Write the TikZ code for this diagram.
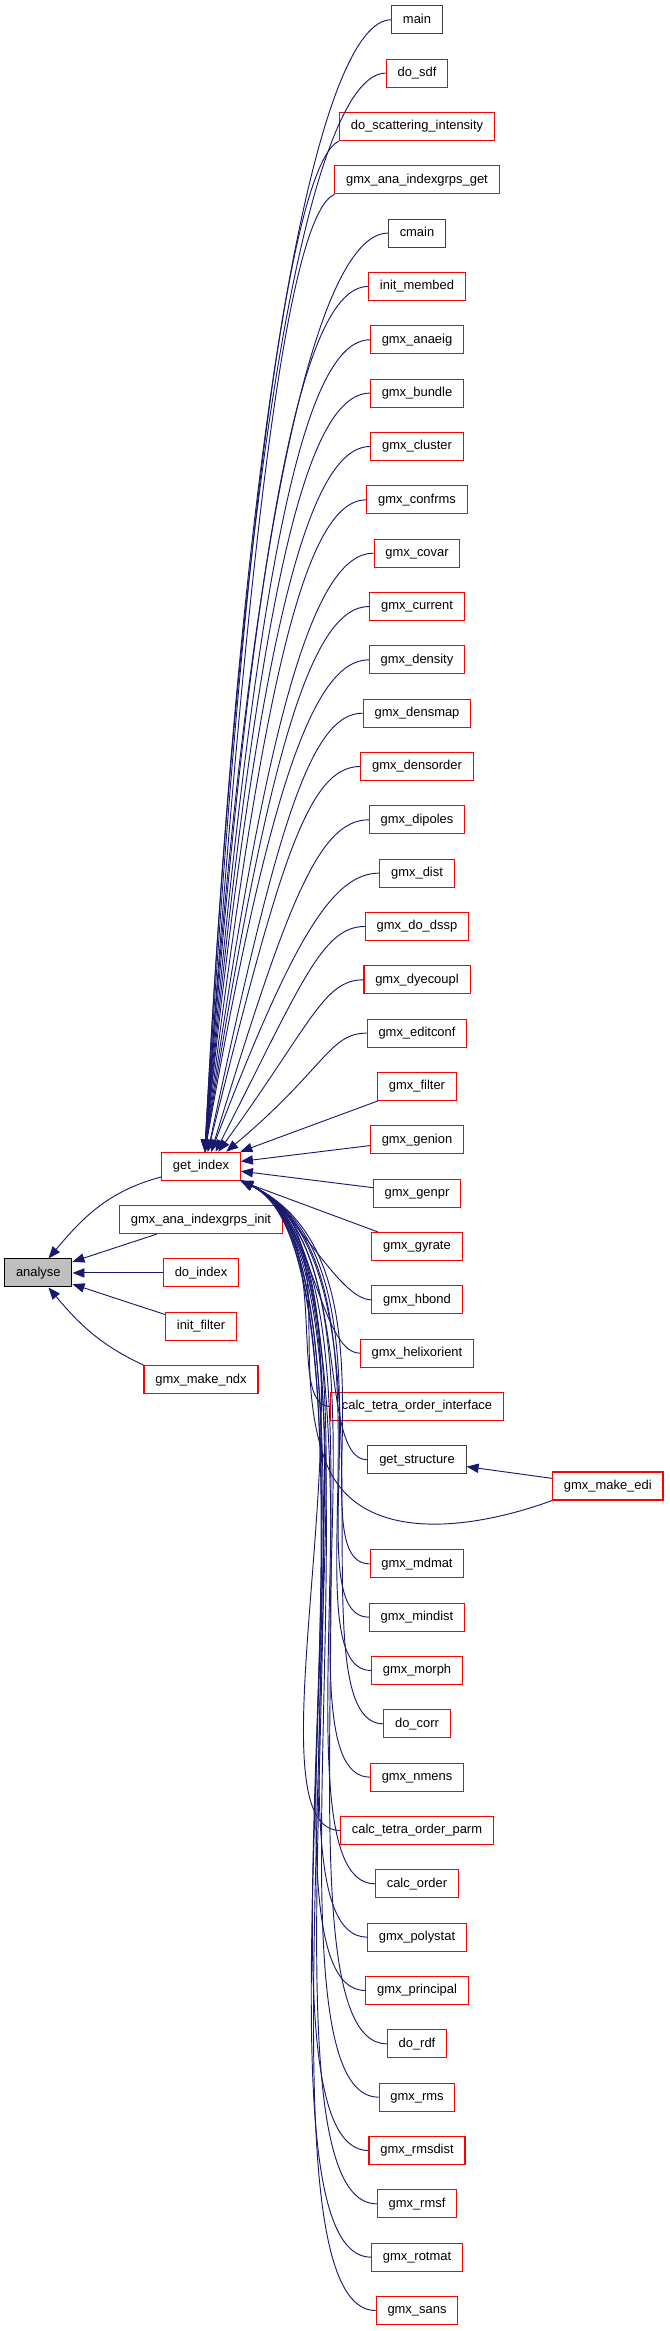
\documentclass[tikz,border=0pt]{standalone}
\usepackage{fontspec}
\setmainfont{Liberation Sans}
\usetikzlibrary{positioning,arrows.meta}
\definecolor{callblue}{HTML}{191970}
\definecolor{boxred}{HTML}{FF0000}
\definecolor{boxgray}{HTML}{404040}
\definecolor{rootgray}{HTML}{BFBFBF}
\begin{document}
\begin{tikzpicture}[
  node distance=40pt,
  box/.style={draw=boxred, line width=0.8pt, minimum height=21pt, inner xsep=8.5pt, text height=7.2pt, text depth=2pt, font=\fontsize{9.7}{11}\selectfont},
  docbox/.style={box, draw=boxgray},
  rootbox/.style={box, draw=black, fill=rootgray},
  call/.style={draw=callblue, line width=0.7pt, -{Triangle[length=9pt,width=7pt]}},
  upcall/.style 2 args={out=180, in=#1, out distance=#2, in looseness=1.8},
  lowcall/.style 2 args={out=180, in=-25, out distance=#1, in distance=#2}
]
\useasboundingbox (0,0) rectangle (501.75pt,-1748.25pt);

% callers of get_index
\node[docbox] (main) at (312.75pt,-14.85pt) {main};
\node[box] (dosdf)        [below of=main]         {do\_sdf};
\node[box] (doscatter)    [below of=dosdf]        {do\_scattering\_intensity};
\node[box] (indexgrpsget) [below of=doscatter]    {gmx\_ana\_indexgrps\_get};
\node[docbox] (cmain)     [below of=indexgrpsget] {cmain};
\node[box] (initmembed)   [below of=cmain]        {init\_membed};
\node[box] (anaeig)       [below of=initmembed]   {gmx\_anaeig};
\node[box] (bundle)       [below of=anaeig]       {gmx\_bundle};
\node[box] (cluster)      [below of=bundle]       {gmx\_cluster};
\node[box] (confrms)      [below of=cluster]      {gmx\_confrms};
\node[box] (covar)        [below of=confrms]      {gmx\_covar};
\node[box] (current)      [below of=covar]        {gmx\_current};
\node[box] (density)      [below of=current]      {gmx\_density};
\node[box] (densmap)      [below of=density]      {gmx\_densmap};
\node[box] (densorder)    [below of=densmap]      {gmx\_densorder};
\node[box] (dipoles)      [below of=densorder]    {gmx\_dipoles};
\node[box] (dist)         [below of=dipoles]      {gmx\_dist};
\node[box] (dodssp)       [below of=dist]         {gmx\_do\_dssp};
\node[box] (dyecoupl)     [below of=dodssp]       {gmx\_dyecoupl};
\node[box] (editconf)     [below of=dyecoupl]     {gmx\_editconf};
\node[box] (filter)       [below of=editconf]     {gmx\_filter};
\node[box] (genion)       [below of=filter]       {gmx\_genion};
\node[box] (genpr)        [below of=genion]       {gmx\_genpr};
\node[box] (gyrate)       [below of=genpr]        {gmx\_gyrate};
\node[box] (hbond)        [below of=gyrate]       {gmx\_hbond};
\node[box] (helixorient)  [below of=hbond]        {gmx\_helixorient};
\node[box] (tetraiface)   [below of=helixorient]  {calc\_tetra\_order\_interface};
\node[docbox] (getstructure) [below of=tetraiface] {get\_structure};
\node[box] (mdmat)        [below of=getstructure, node distance=78pt] {gmx\_mdmat};
\node[box] (mindist)      [below of=mdmat]        {gmx\_mindist};
\node[box] (morph)        [below of=mindist]      {gmx\_morph};
\node[box] (docorr)       [below of=morph]        {do\_corr};
\node[box] (nmens)        [below of=docorr]       {gmx\_nmens};
\node[box] (tetraparm)    [below of=nmens]        {calc\_tetra\_order\_parm};
\node[box] (calcorder)    [below of=tetraparm]    {calc\_order};
\node[box] (polystat)     [below of=calcorder]    {gmx\_polystat};
\node[box] (principal)    [below of=polystat]     {gmx\_principal};
\node[box] (dordf)        [below of=principal]    {do\_rdf};
\node[box] (rms)          [below of=dordf]        {gmx\_rms};
\node[box] (rmsdist)      [below of=rms]          {gmx\_rmsdist};
\node[box] (rmsf)         [below of=rmsdist]      {gmx\_rmsf};
\node[box] (rotmat)       [below of=rmsf]         {gmx\_rotmat};
\node[box] (sans)         [below of=rotmat]       {gmx\_sans};
\node[box] (makeedi) at (455.85pt,-1114.5pt) {gmx\_make\_edi};
\coordinate (edibend) at (243.75pt,-1095pt);

% callers of analyse
\node[box] (getindex) at (150.75pt,-874.7pt) {get\_index};
\node[box] (indexgrpsinit) [below of=getindex]      {gmx\_ana\_indexgrps\_init};
\node[box] (doindex)       [below of=indexgrpsinit] {do\_index};
\node[box] (initfilter)    [below of=doindex]       {init\_filter};
\node[box] (makendx)       [below of=initfilter]    {gmx\_make\_ndx};
\node[rootbox] (analyse)   [left of=doindex, node distance=122pt] {analyse};

\draw[call] (main.west)            to[upcall={87}{50pt}] (getindex.75);
\draw[call] (dosdf.west)           to[upcall={87}{50pt}] (getindex.75);
\draw[call] (doscatter.south west) to[upcall={86.5}{35pt}, out=205] (getindex.75);
\draw[call] (indexgrpsget.south west) to[upcall={86}{35pt}, out=205] (getindex.75);
\draw[call] (cmain.west)           to[upcall={86}{50pt}] (getindex.75);
\draw[call] (initmembed.west)      to[upcall={85.5}{50pt}] (getindex.75);
\draw[call] (anaeig.west)          to[upcall={85}{50pt}] (getindex.75);
\draw[call] (bundle.west)          to[upcall={84.5}{50pt}] (getindex.75);
\draw[call] (cluster.west)         to[upcall={84}{48pt}] (getindex.75);
\draw[call] (confrms.west)         to[upcall={83}{46pt}] (getindex.75);
\draw[call] (covar.west)           to[upcall={82}{45pt}] (getindex.75);
\draw[call] (current.west)         to[upcall={81}{44pt}] (getindex.75);
\draw[call] (density.west)         to[upcall={80}{42pt}] (getindex.75);
\draw[call] (densmap.west)         to[upcall={78}{40pt}] (getindex.65);
\draw[call] (densorder.west)       to[upcall={76}{40pt}] (getindex.65);
\draw[call] (dipoles.west)         to[upcall={73}{38pt}] (getindex.55);
\draw[call] (dist.west)            to[upcall={69}{35pt}] (getindex.55);
\draw[call] (dodssp.west)          to[upcall={63}{32pt}] (getindex.45);
\draw[call] (dyecoupl.west)        to[upcall={54}{30pt}] (getindex.40);
\draw[call] (editconf.west)        to[upcall={40}{28pt}] (getindex.30);
\draw[call] (filter) -- (getindex);
\draw[call] (genion) -- (getindex);
\draw[call] (genpr) -- (getindex);
\draw[call] (gyrate) -- (getindex);
\draw[call] (hbond.west)        to[lowcall={25pt}{45pt}] (getindex.south east);
\draw[call] (helixorient.west)  to[lowcall={30pt}{60pt}] (getindex.south east);
\draw[call] (tetraiface.west)   to[lowcall={35pt}{80pt}] (getindex.south east);
\draw[call] (getstructure.west) to[lowcall={40pt}{95pt}] (getindex.south east);
\draw[call] (makeedi.south west) to[out=200, in=-70] (edibend) to[out=110, in=-25] (getindex.south east);
\draw[call] (makeedi) -- (getstructure);
\draw[call] (mdmat.west)     to[lowcall={55pt}{140pt}] (getindex.south east);
\draw[call] (mindist.west)   to[lowcall={60pt}{140pt}] (getindex.south east);
\draw[call] (morph.west)     to[lowcall={65pt}{140pt}] (getindex.south east);
\draw[call] (docorr.west)    to[lowcall={70pt}{140pt}] (getindex.south east);
\draw[call] (nmens.west)     to[lowcall={75pt}{140pt}] (getindex.south east);
\draw[call] (tetraparm.west) to[lowcall={80pt}{140pt}] (getindex.south east);
\draw[call] (calcorder.west) to[lowcall={85pt}{140pt}] (getindex.south east);
\draw[call] (polystat.west)  to[lowcall={90pt}{140pt}] (getindex.south east);
\draw[call] (principal.west) to[lowcall={93pt}{140pt}] (getindex.south east);
\draw[call] (dordf.west)     to[lowcall={96pt}{140pt}] (getindex.south east);
\draw[call] (rms.west)       to[lowcall={100pt}{140pt}] (getindex.south east);
\draw[call] (rmsdist.west)   to[lowcall={103pt}{140pt}] (getindex.south east);
\draw[call] (rmsf.west)      to[lowcall={106pt}{140pt}] (getindex.south east);
\draw[call] (rotmat.west)    to[lowcall={108pt}{140pt}] (getindex.south east);
\draw[call] (sans.west)      to[lowcall={110pt}{140pt}] (getindex.south east);

\draw[call] (getindex.195) to[out=195, in=50] (analyse.55);
\draw[call] (indexgrpsinit) -- (analyse);
\draw[call] (doindex) -- (analyse);
\draw[call] (initfilter) -- (analyse);
\draw[call] (makendx.north west) to[out=155, in=-50] (analyse.-55);
\end{tikzpicture}
\end{document}
